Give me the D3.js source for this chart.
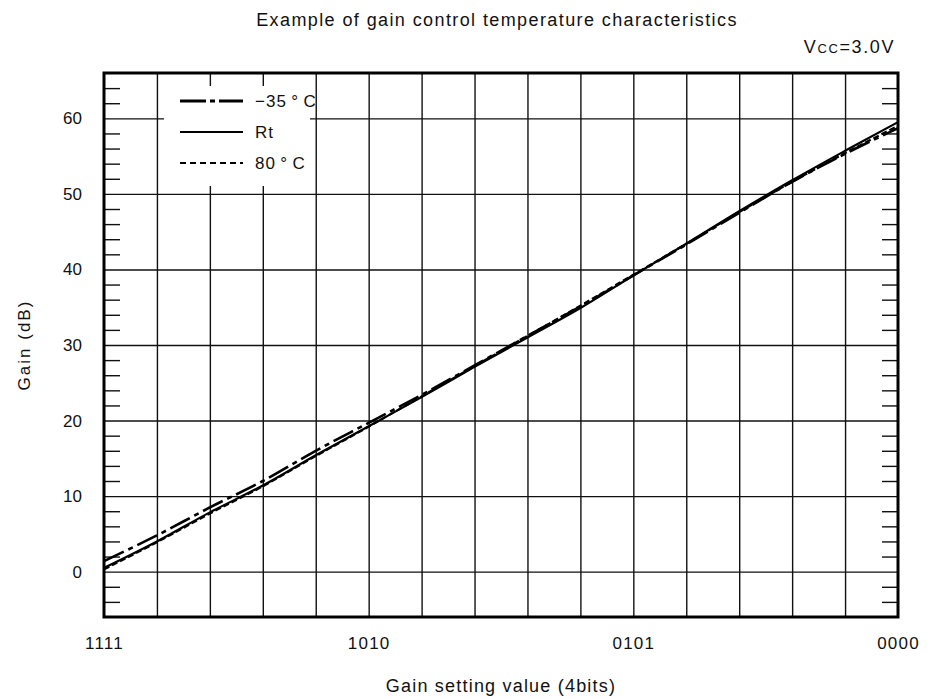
<!DOCTYPE html>
<html>
<head>
<meta charset="utf-8">
<script src="https://cdn.jsdelivr.net/npm/d3@7"></script>
<style>
  body { margin: 0; background: #fff; }
  svg text { font-family: "Liberation Sans", Arial, sans-serif; fill: #111; }
</style>
</head>
<body>
<svg id="chart" width="930" height="699"></svg>
<script>
// Gain setting codes, left to right
var settings = ['1111','1110','1101','1100','1011','1010','1001','1000',
                '0111','0110','0101','0100','0011','0010','0001','0000'];
var tickLabels = ['1111', '1010', '0101', '0000'];
var yTicks = [0, 10, 20, 30, 40, 50, 60];

// Gain (dB)
var gainM35 = [1.4, 4.8, 8.5, 12.0, 16.0, 19.7, 23.4, 27.3, 31.2, 35.1, 39.2, 43.3, 47.5, 51.6, 55.3, 58.7];
var gainRt  = [0.5, 4.0, 7.85, 11.4, 15.4, 19.25, 23.1, 27.1, 31.0, 34.9, 39.2, 43.4, 47.7, 51.8, 55.7, 59.5];
var gain80  = [0.3, 3.9, 7.7, 11.3, 15.3, 19.2, 23.2, 27.2, 31.2, 35.2, 39.3, 43.4, 47.6, 51.6, 55.4, 59.0];

var seriesNames = ['\u221235\u2009\u00b0\u2009C', 'Rt', '80\u2009\u00b0\u2009C'];

// Plot frame
var margin = {top: 73, right: 32, bottom: 82, left: 104},
    width = 930 - margin.left - margin.right,
    height = 699 - margin.top - margin.bottom;

var svg = d3.select('#chart');
var g = svg.append('g')
    .attr('transform', 'translate(' + margin.left + ',' + margin.top + ')');

var xScale = d3.scaleLinear().domain([0, settings.length - 1]).range([0, width]);
var yScale = d3.scaleLinear().domain([-6, 66]).range([height, 0]);

// Vertical grid, one line per setting
g.append('g')
  .attr('class', 'grid')
  .call(d3.axisBottom(xScale).tickValues(d3.range(1, settings.length - 1)).tickSize(-height).tickFormat(''))
  .attr('transform', 'translate(0,' + height + ')')
  .call(function(s) { s.select('.domain').remove(); })
  .selectAll('line').attr('stroke', '#111').attr('stroke-width', 1.4);

// Horizontal grid every 10 dB
g.append('g')
  .attr('class', 'grid')
  .call(d3.axisLeft(yScale).tickValues(yTicks).tickSize(-width).tickFormat(''))
  .call(function(s) { s.select('.domain').remove(); })
  .selectAll('line').attr('stroke', '#111').attr('stroke-width', 1.4);

// Minor ticks every 2 dB on both sides
var minor = d3.range(-4, 66, 2).filter(function(v) { return v % 10 !== 0; });
g.append('g')
  .call(d3.axisRight(yScale).tickValues(minor).tickSize(16).tickFormat(''))
  .call(function(s) { s.select('.domain').remove(); })
  .selectAll('line').attr('stroke', '#111').attr('stroke-width', 1.4);
g.append('g')
  .attr('transform', 'translate(' + width + ',0)')
  .call(d3.axisLeft(yScale).tickValues(minor).tickSize(16).tickFormat(''))
  .call(function(s) { s.select('.domain').remove(); })
  .selectAll('line').attr('stroke', '#111').attr('stroke-width', 1.4);

// Y labels
var yAxis = g.append('g')
  .call(d3.axisLeft(yScale).tickValues(yTicks).tickSize(0).tickPadding(22));
yAxis.select('.domain').remove();
yAxis.selectAll('text').style('font-size', '17px').attr('fill', '#111')
  .style('font-family', '"Liberation Sans", Arial, sans-serif');

// X labels
var xAxis = g.append('g')
  .attr('transform', 'translate(0,' + height + ')')
  .call(d3.axisBottom(xScale)
    .tickValues(tickLabels.map(function(t) { return settings.indexOf(t); }))
    .tickFormat(function(i) { return settings[i]; })
    .tickSize(0).tickPadding(20));
xAxis.select('.domain').remove();
xAxis.selectAll('text').style('font-size', '17px').attr('fill', '#111')
  .style('letter-spacing', '1.2px')
  .style('font-family', '"Liberation Sans", Arial, sans-serif');

// Legend box hides the grid behind it
g.append('rect')
  .attr('x', 60).attr('y', 13)
  .attr('width', 146).attr('height', 100)
  .attr('fill', '#fff');

var styles = [
  {dash: '26,4,5,4', w: 3},
  {dash: null, w: 2},
  {dash: '6,4', w: 2}
];
var plotStyles = [
  {dash: '22,5,5,5', w: 2.6},
  {dash: null, w: 2.2},
  {dash: '6,3', w: 2.2}
];

var legend = g.append('g').attr('transform', 'translate(76,28)');
seriesNames.forEach(function(name, i) {
  var row = legend.append('g').attr('transform', 'translate(0,' + (i * 31) + ')');
  row.append('line')
    .attr('x1', 0).attr('x2', 63).attr('y1', 0).attr('y2', 0)
    .attr('stroke', '#000')
    .attr('stroke-width', styles[i].w)
    .attr('stroke-dasharray', styles[i].dash);
  row.append('text')
    .attr('x', 75).attr('y', 6)
    .style('font-size', '17px')
    .style('letter-spacing', '1px')
    .text(name);
});

// Curves
var line = d3.line().curve(d3.curveMonotoneX)
  .x(function(d, i) { return xScale(i); })
  .y(function(d) { return yScale(d); });

[gainM35, gainRt, gain80].forEach(function(values, i) {
  g.append('path')
    .datum(values)
    .attr('d', line)
    .attr('fill', 'none')
    .attr('stroke', '#000')
    .attr('stroke-width', plotStyles[i].w)
    .attr('stroke-dasharray', plotStyles[i].dash);
});

// Frame
g.append('rect')
  .attr('width', width).attr('height', height)
  .attr('fill', 'none')
  .attr('stroke', '#000')
  .attr('stroke-width', 3);

// Titles
svg.append('text')
  .attr('x', 497).attr('y', 26)
  .attr('text-anchor', 'middle')
  .style('font-size', '18px')
  .style('letter-spacing', '1.4px')
  .text('Example of gain control temperature characteristics');

var vcc = svg.append('text')
  .attr('x', 895).attr('y', 53)
  .attr('text-anchor', 'end')
  .style('font-size', '18px')
  .style('letter-spacing', '1.6px');
vcc.append('tspan').text('V');
vcc.append('tspan').style('font-size', '13px').text('CC');
vcc.append('tspan').text('=3.0V');

svg.append('text')
  .attr('transform', 'translate(30,' + (margin.top + height / 2) + ') rotate(-90)')
  .attr('text-anchor', 'middle')
  .style('font-size', '17px')
  .style('letter-spacing', '2px')
  .text('Gain (dB)');

svg.append('text')
  .attr('x', margin.left + width / 2).attr('y', 692)
  .attr('text-anchor', 'middle')
  .style('font-size', '18px')
  .style('letter-spacing', '1.2px')
  .text('Gain setting value (4bits)');
</script>
</body>
</html>
